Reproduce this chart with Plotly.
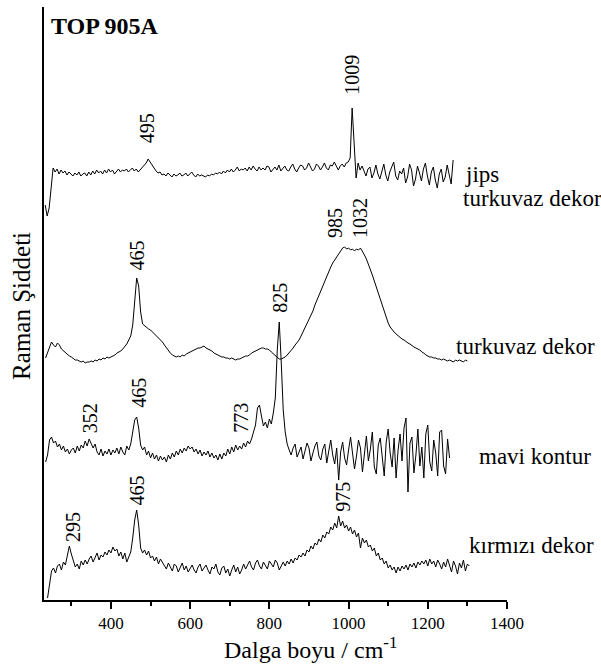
import plotly.graph_objects as go

# ---- data (intensities in arbitrary, offset-stacked units) ----
jips_x = list(range(234, 1265, 5))
jips_y = [
    395, 384, 392, 412, 432, 428, 431, 426, 430, 427,
    429, 425, 428, 426, 424, 427, 425, 428, 424, 426,
    427, 424, 428, 425, 429, 426, 430, 427, 429, 426,
    430, 427, 431, 428, 430, 426, 429, 431, 428, 430,
    429, 431, 428, 430, 432, 429, 431, 428, 430, 432,
    434, 437, 441, 438, 435, 431, 429, 427, 428, 425,
    426, 424, 427, 425, 423, 426, 424, 425, 427, 424,
    425, 427, 424, 426, 428, 425, 423, 426, 424, 425,
    424, 423, 425, 424, 426, 425, 427, 426, 428, 426,
    429, 427, 430, 428, 431, 428, 430, 433, 429, 431,
    430, 432, 429, 433, 430, 434, 431, 429, 433, 430,
    432, 430, 434, 433, 428, 431, 433, 430, 435, 429,
    431, 434, 430, 429, 433, 436, 431, 428, 432, 435,
    434, 430, 432, 437, 433, 429, 431, 436, 434, 430,
    433, 437, 432, 430, 435, 434, 438, 433, 430, 434,
    436, 433, 437, 438, 442, 492, 450, 422, 437, 430,
    434, 429, 424, 431, 433, 422, 427, 435, 426, 421,
    430, 436, 425, 419, 428, 433, 438, 424, 420, 429,
    426, 432, 417, 423, 436, 430, 414, 421, 434, 427,
    419, 431, 437, 424, 415, 428, 433, 420, 412, 426,
    431, 418, 423, 435, 427, 416, 440,
]

turk_x = list(range(235, 1301, 5))
turk_y = [
    242, 247, 254, 258, 255, 253, 257, 255, 251, 249,
    247, 245, 244, 243, 241, 240, 240, 239, 238, 239,
    237, 238, 238, 239, 238, 240, 239, 241, 240, 242,
    241, 243, 242, 243, 244, 245, 247, 248, 249, 251,
    253, 256, 260, 264, 275, 300, 322, 314, 288, 276,
    274, 272, 271, 270, 268, 266, 265, 263, 261, 258,
    255, 252, 249, 247, 245, 244, 243, 244, 243, 245,
    244, 246, 247, 248, 249, 250, 251, 252, 252, 253,
    254, 252, 251, 250, 249, 247, 246, 245, 244, 243,
    243, 242, 242, 241, 242, 241, 240, 241, 241, 242,
    243, 244, 244, 245, 247, 248, 249, 250, 251, 252,
    252, 251, 251, 250, 248, 246, 244, 243, 241, 241,
    242, 243, 245, 247, 250, 252, 255, 257, 260, 264,
    268, 272, 276, 280, 285, 289, 295, 300, 305, 309,
    314, 319, 324, 329, 333, 337, 340, 343, 346, 349,
    352, 353, 351, 352, 350, 351, 349, 351, 350, 352,
    349, 345, 341, 336, 332, 325, 319, 313, 307, 300,
    294, 288, 282, 277, 273, 270, 268, 266, 264, 263,
    261, 260, 258, 257, 256, 254, 253, 252, 251, 250,
    248, 247, 245, 244, 243, 243, 242, 242, 241, 241,
    240, 241, 240, 239, 240, 239, 238, 240, 239, 240,
    239, 238, 240, 239,
]

mavi_x = list(range(235, 1256, 5))
mavi_y = [
    138, 145, 160, 163, 157, 159, 153, 156, 150, 154,
    148, 151, 146, 150, 152, 147, 154, 149, 155, 152,
    159, 154, 161, 157, 152, 156, 148, 145, 151, 144,
    149, 146, 151, 145, 150, 147, 152, 146, 153, 148,
    145, 154, 150, 156, 168, 180, 183, 172, 155, 150,
    153, 145, 149, 142, 147, 141, 145, 139, 144, 140,
    143, 138, 145, 141, 147, 143, 149, 145, 151, 147,
    152, 149, 154, 151, 153, 148, 151, 146, 150, 144,
    148, 145, 149, 143, 147, 142, 145, 140, 146, 141,
    147, 144, 151, 146, 153, 148, 155, 150, 154, 151,
    157, 153, 159, 156, 161, 167, 175, 192, 195, 184,
    174, 178, 172, 181, 176, 187, 202, 250, 278, 238,
    190, 168, 156, 150, 145, 152, 156, 143, 148, 153,
    141, 150, 157, 152, 139, 147, 154, 158, 144, 140,
    151, 156, 137, 149, 160, 145, 136, 152, 120, 148,
    158, 142, 135, 150, 163, 147, 131, 144, 160, 152,
    128, 146, 164, 139, 151, 168, 133, 126, 155, 162,
    141, 124, 158, 171, 147, 133, 162, 122, 150, 166,
    139, 172, 182, 108, 157, 163, 127, 145, 171, 134,
    153, 122, 166, 175, 138, 129, 160, 147, 124, 168,
    170, 134, 126, 161, 142,
]

kirmizi_x = list(range(240, 1306, 5))
kirmizi_y = [
    2, 16, 29, 32, 27, 34, 36, 30, 38, 35,
    44, 54, 46, 38, 33, 36, 31, 39, 35, 40,
    36, 41, 44, 38, 42, 47, 40, 45, 43, 48,
    45, 50, 47, 53, 49, 51, 44, 48, 41, 47,
    38, 44, 48, 62, 80, 90, 75, 52, 47, 50,
    45, 49, 42, 44, 39, 43, 36, 41, 38, 35,
    31, 37, 33, 29, 36, 34, 28, 32, 37, 30,
    34, 28, 31, 35, 30, 27, 33, 36, 29, 32,
    35, 30, 26, 33, 31, 36, 28, 25, 32, 34,
    27, 31, 24, 30, 35, 28, 33, 26, 30, 36,
    31, 35, 39, 33, 30, 37, 40, 34, 31, 38,
    35, 31, 39, 36, 33, 40, 37, 30, 34, 38,
    34, 39, 36, 41, 37, 42, 40, 45, 43, 47,
    44, 50, 48, 54, 51, 57, 55, 61, 58, 65,
    62, 68, 66, 73, 70, 77, 72, 84, 74, 79,
    72, 75, 69, 73, 66, 70, 63, 67, 52, 62,
    57, 60, 53, 55, 49, 52, 44, 47, 40, 42,
    36, 39, 32, 35, 30, 33, 27, 33, 29, 34,
    31, 35, 30, 36, 33, 37, 32, 38, 35, 39,
    36, 40, 34, 41, 36, 39, 33, 40, 36, 31,
    38, 33, 41, 35, 28, 39, 34, 26, 37, 32,
    40, 29, 36, 34,
]

# peak labels: (text, x position, y position)
peak_labels = ["495", "1009", "465", "825", "985", "1032",
               "352", "465", "773", "295", "465", "975"]
peak_label_x = [492, 1008, 467, 826, 966, 1029, 348, 470, 728, 304, 467, 985]
peak_label_y = [472, 525, 345, 302, 377, 382, 182, 207, 182, 73, 110, 103]

# sample labels at the right
sample_labels = ["jips", "turkuvaz dekor", "turkuvaz dekor", "mavi kontur", "kırmızı dekor"]
sample_label_x = [1290, 1284, 1265, 1324, 1300]
sample_label_y = [426, 402, 254, 144, 55]

x_ticks = [400, 600, 800, 1000, 1200, 1400]

FONT = "Liberation Serif, Times New Roman, serif"

fig = go.Figure()
for xs, ys in [(jips_x, jips_y), (turk_x, turk_y), (mavi_x, mavi_y), (kirmizi_x, kirmizi_y)]:
    fig.add_trace(go.Scatter(x=xs, y=ys, mode="lines",
                             line=dict(color="black", width=1), showlegend=False,
                             hoverinfo="skip"))

annotations = []
for t, x, y in zip(peak_labels, peak_label_x, peak_label_y):
    annotations.append(dict(text=t, x=x, y=y, xref="x", yref="y", showarrow=False,
                            textangle=-90, xanchor="center", yanchor="middle",
                            font=dict(family=FONT, size=20, color="black")))
for t, x, y in zip(sample_labels, sample_label_x, sample_label_y):
    annotations.append(dict(text=t, x=x, y=y, xref="x", yref="y", showarrow=False,
                            xanchor="left", yanchor="middle",
                            font=dict(family=FONT, size=23, color="black")))
annotations.append(dict(text="<b>TOP 905A</b>", x=243, y=574, xref="x", yref="y",
                        showarrow=False, xanchor="left", yanchor="middle",
                        font=dict(family=FONT, size=24, color="black")))
annotations.append(dict(text="Dalga boyu / cm<sup>-1</sup>", x=0.3845, y=-0.081,
                        xref="paper", yref="paper", showarrow=False,
                        xanchor="left", yanchor="middle",
                        font=dict(family=FONT, size=24, color="black")))
annotations.append(dict(text="Raman Şiddeti", x=-0.0475, y=0.496,
                        xref="paper", yref="paper", showarrow=False, textangle=-90,
                        xanchor="center", yanchor="middle",
                        font=dict(family=FONT, size=25, color="black")))

fig.update_layout(
    width=601, height=666,
    margin=dict(l=44, r=94, t=7, b=66),
    paper_bgcolor="white", plot_bgcolor="white",
    showlegend=False,
    font=dict(family=FONT, color="black"),
    annotations=annotations,
    xaxis=dict(range=[231, 1400], showgrid=False, zeroline=False,
               showline=True, linecolor="black", linewidth=2,
               ticks="outside", ticklen=7, tickwidth=1.5, tickcolor="black",
               tickvals=x_ticks, ticktext=[str(v) for v in x_ticks],
               tickfont=dict(family=FONT, size=17, color="black"),
               minor=dict(tickvals=[300, 500, 700, 900, 1100, 1300], ticks="outside",
                          ticklen=4, tickwidth=1.5, tickcolor="black")),
    yaxis=dict(range=[0, 593], showgrid=False, zeroline=False,
               showline=True, linecolor="black", linewidth=2,
               showticklabels=False, ticks=""),
)

fig.write_html("out.html")
